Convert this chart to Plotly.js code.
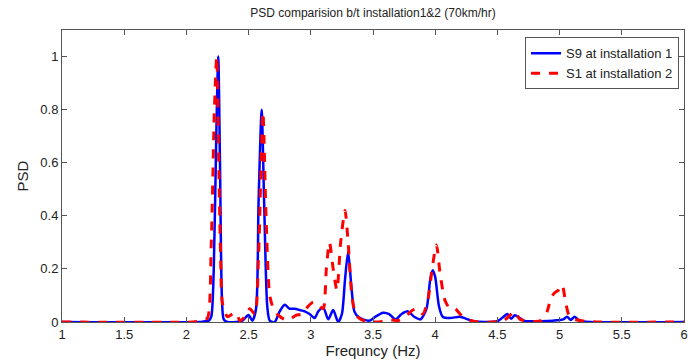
<!DOCTYPE html>
<html>
<head>
<meta charset="utf-8">
<script src="https://cdn.plot.ly/plotly-3.0.1.min.js"></script>
<style>html,body{margin:0;padding:0;background:#fff;}#chart{width:692px;height:364px;}</style>
</head>
<body>
<div id="chart"></div>
<script>
const s9Freq = [1.0,2.10,2.15,2.18,2.20,2.22,2.24,2.256,2.27,2.285,2.30,2.33,2.40,2.45,2.50,2.53,2.56,2.58,2.605,2.625,2.65,2.67,2.71,2.75,2.79,2.83,2.87,2.91,2.95,2.99,3.03,3.06,3.10,3.14,3.18,3.22,3.25,3.275,3.30,3.325,3.35,3.38,3.42,3.47,3.52,3.58,3.63,3.68,3.73,3.78,3.83,3.88,3.93,3.96,3.98,4.00,4.03,4.06,4.12,4.20,4.25,4.30,4.40,4.50,4.55,4.58,4.61,4.64,4.68,4.72,4.85,4.95,5.03,5.06,5.09,5.12,5.16,5.25,6.0];
const s9Psd  = [0,0,0.003,0.005,0.02,0.2,0.7,1.0,0.6,0.1,0.01,0.0,0.0,0.005,0.026,0.005,0.05,0.45,0.8,0.45,0.06,0.005,0.0,0.04,0.065,0.05,0.05,0.045,0.04,0.03,0.015,0.04,0.055,0.01,0.045,0.0,0.03,0.16,0.265,0.14,0.04,0.02,0.01,0.005,0.02,0.035,0.03,0.01,0.03,0.04,0.02,0.01,0.05,0.16,0.195,0.17,0.06,0.02,0.015,0.02,0.012,0.004,0.0,0.003,0.02,0.03,0.012,0.025,0.015,0.004,0.003,0.005,0.01,0.02,0.008,0.02,0.005,0,0];

const s1Freq = [1.0,2.05,2.10,2.14,2.17,2.20,2.225,2.244,2.26,2.275,2.29,2.33,2.37,2.40,2.43,2.47,2.51,2.55,2.58,2.615,2.64,2.67,2.70,2.74,2.79,2.83,2.88,2.93,2.98,3.02,3.07,3.10,3.125,3.15,3.18,3.21,3.24,3.275,3.30,3.33,3.36,3.40,3.45,3.55,3.62,3.70,3.76,3.82,3.86,3.90,3.94,3.975,4.01,4.04,4.08,4.12,4.16,4.20,4.26,4.35,4.55,4.60,4.64,4.68,4.75,4.85,4.90,4.93,4.96,4.99,5.02,5.05,5.08,5.12,5.2,5.3,6.0];
const s1Psd  = [0,0,0.003,0.01,0.015,0.3,0.8,1.0,0.6,0.25,0.07,0.02,0.03,0.035,0.005,0.02,0.05,0.03,0.25,0.79,0.4,0.1,0.05,0.025,0.01,0.01,0.025,0.03,0.06,0.075,0.06,0.05,0.2,0.3,0.2,0.12,0.3,0.42,0.3,0.1,0.03,0.01,0.003,0.0,0.01,0.005,0.02,0.045,0.05,0.03,0.08,0.2,0.29,0.18,0.08,0.05,0.05,0.03,0.01,0.0,0.005,0.025,0.04,0.01,0.003,0.005,0.04,0.09,0.11,0.12,0.14,0.07,0.02,0.01,0.003,0,0];

const xTicks = [1,1.5,2,2.5,3,3.5,4,4.5,5,5.5,6];
const yTicks = [0,0.2,0.4,0.6,0.8,1];

const traces = [
  {x: s9Freq, y: s9Psd, type: 'scatter', mode: 'lines', name: 'S9 at installation 1',
   line: {color: '#0000ff', width: 2.5, shape: 'spline', smoothing: 0.7}},
  {x: s1Freq, y: s1Psd, type: 'scatter', mode: 'lines', name: 'S1 at installation 2',
   line: {color: '#ff0000', width: 3, dash: 'dash', shape: 'spline', smoothing: 0.7}}
];

const axisCommon = {
  showgrid: false, zeroline: false, showline: true, linecolor: '#555', linewidth: 1,
  mirror: 'ticks', ticks: 'inside', ticklen: 5, tickcolor: '#555',
  tickfont: {family: 'Arial, Liberation Sans, sans-serif', size: 13, color: '#222'}
};

const layout = {
  width: 692, height: 364,
  margin: {l: 62, r: 8, t: 30, b: 42},
  paper_bgcolor: '#fff', plot_bgcolor: '#fff',
  font: {family: 'Arial, Liberation Sans, sans-serif', color: '#222'},
  title: {text: 'PSD comparision b/t installation1&2 (70km/hr)', font: {size: 12, color: '#222'},
          x: 0.539, xanchor: 'center', y: 0.965, yanchor: 'middle'},
  xaxis: Object.assign({}, axisCommon, {
    range: [1, 6], tickvals: xTicks, ticktext: xTicks.map(String),
    title: {text: 'Frequncy (Hz)', font: {size: 15, color: '#222'}, standoff: 4}
  }),
  yaxis: Object.assign({}, axisCommon, {
    range: [0, 1.1], tickvals: yTicks, ticktext: yTicks.map(String),
    title: {text: 'PSD', font: {size: 15, color: '#222'}, standoff: 8}
  }),
  showlegend: true,
  legend: {x: 0.992, y: 0.975, xanchor: 'right', yanchor: 'top',
           bordercolor: '#555', borderwidth: 1, bgcolor: '#fff',
           font: {size: 13, color: '#222'}, tracegroupgap: 0}
};

Plotly.newPlot('chart', traces, layout, {displayModeBar: false, staticPlot: true});
</script>
</body>
</html>
